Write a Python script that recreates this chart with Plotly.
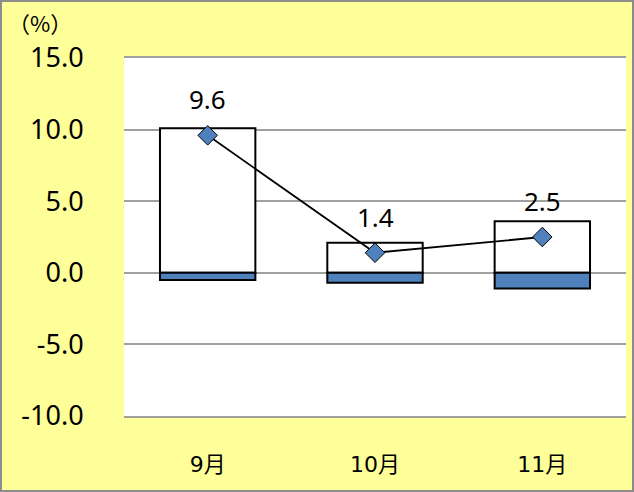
import plotly.graph_objects as go

# Monthly data (%)
months = ["9月", "10月", "11月"]
positive_part = [10.1, 2.1, 3.6]
negative_part = [-0.5, -0.7, -1.1]
net_change = [9.6, 1.4, 2.5]
y_ticks = [-10, -5, 0, 5, 10, 15]

BG = "#FFFF99"
BLUE = "#4F81BD"
GRID = "#A0A0A0"

fig = go.Figure()

fig.add_trace(go.Bar(
    x=months, y=positive_part, width=0.57,
    marker=dict(color="white", line=dict(color="black", width=2)),
    hoverinfo="skip", showlegend=False,
))
fig.add_trace(go.Bar(
    x=months, y=negative_part, width=0.57,
    marker=dict(color=BLUE, line=dict(color="black", width=2)),
    hoverinfo="skip", showlegend=False,
))
fig.add_trace(go.Scatter(
    x=months, y=net_change, mode="lines+markers",
    line=dict(color="black", width=1.8),
    marker=dict(symbol="diamond", size=15, color=BLUE,
                line=dict(color="black", width=1)),
    showlegend=False,
))

# value labels above the line markers
for m, v in zip(months, net_change):
    fig.add_annotation(
        x=m, y=v, text=f"{v:.1f}", showarrow=False, yshift=36,
        font=dict(family="Noto Sans", size=26, color="black"),
    )

# chart geometry in pixels
W, H = 634, 492
L, R, T, B = 124, 8, 58, 76
pw, ph = W - L - R, H - T - B

# unit label
fig.add_annotation(
    xref="paper", yref="paper",
    x=(40 - L) / pw, y=(H - B - 22) / ph,
    xanchor="center", yanchor="middle",
    text="（%）", showarrow=False,
    font=dict(family="Noto Sans CJK JP", size=22, color="black"),
)

# outer frame of the chart
fig.add_shape(
    type="rect", xref="paper", yref="paper", layer="above",
    x0=(1 - L) / pw, x1=(W - 1 - L) / pw,
    y0=-(B - 1) / ph, y1=(H - B - 1) / ph,
    line=dict(color="#8C8C8C", width=2), fillcolor="rgba(0,0,0,0)",
)

fig.update_layout(
    width=W, height=H,
    margin=dict(l=L, r=R, t=T, b=B),
    paper_bgcolor=BG, plot_bgcolor="white",
    barmode="relative", bargap=0.43,
    font=dict(family="Noto Sans", color="black"),
)
fig.update_xaxes(
    showgrid=False, zeroline=False,
    showline=True, mirror=True, linecolor=GRID, linewidth=2,
    ticks="outside", ticklen=28, tickcolor="rgba(0,0,0,0)",
    tickfont=dict(family="DejaVu Sans, Noto Sans CJK JP", size=22, color="black"),
)
fig.update_yaxes(
    range=[-10, 15], tickvals=y_ticks,
    ticktext=[f"{t:.1f}" for t in y_ticks],
    showgrid=True, gridcolor=GRID, gridwidth=2,
    zeroline=False, showline=False,
    ticks="outside", ticklen=34, tickcolor="rgba(0,0,0,0)",
    tickfont=dict(family="Noto Sans", size=27, color="black"),
)

fig.write_html("out.html")
